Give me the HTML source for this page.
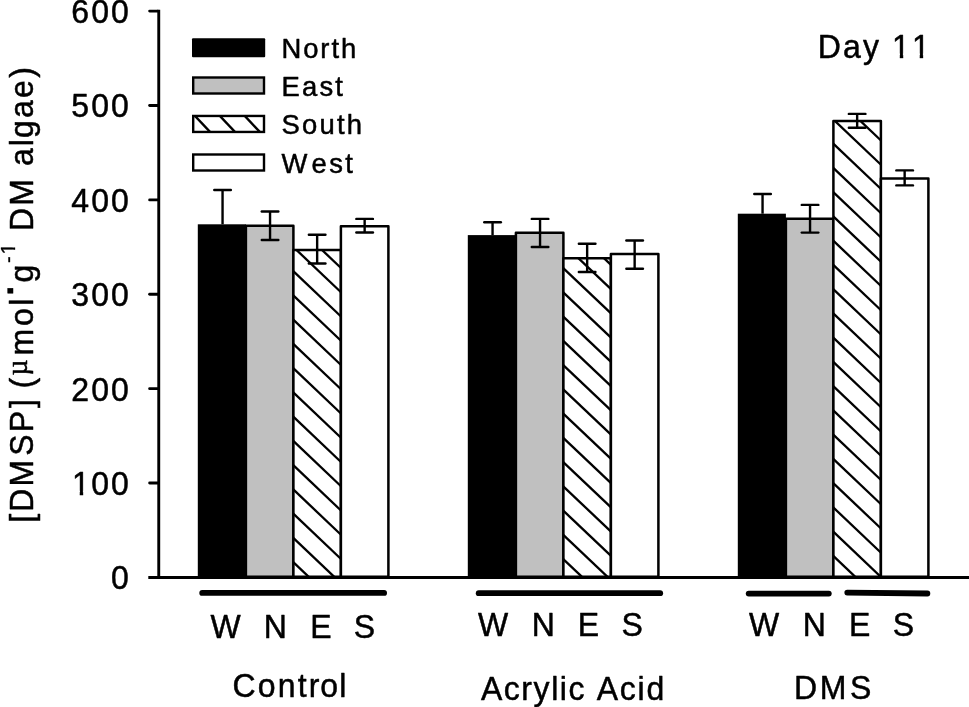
<!DOCTYPE html>
<html lang="en"><head><meta charset="utf-8"><title>DMSP Day 11</title>
<style>html,body{margin:0;padding:0;background:#fff;}svg{display:block;}svg{filter:grayscale(1) blur(0.3px);}text{font-family:"Liberation Sans",Arial,Helvetica,sans-serif;fill:#000;stroke:#000;stroke-width:0.5px;stroke-linejoin:round;font-kerning:none;}.t{font-size:33px;letter-spacing:2.2px;}.l{font-size:28.3px;letter-spacing:2.3px;}.mu{font-family:"Liberation Serif","DejaVu Serif",serif;font-size:28.5px;letter-spacing:0;}</style></head><body>
<svg width="969" height="707" viewBox="0 0 969 707">
<rect width="969" height="707" fill="#fff"/>
<defs>
<clipPath id="c1"><rect x="-3" y="-30" width="26" height="25.8"/><rect x="8.0" y="-5" width="3.5" height="6"/></clipPath>
<clipPath id="c100"><rect x="-3" y="-30" width="80" height="25.8"/><rect x="8.0" y="-5" width="3.5" height="6"/><rect x="19.5" y="-5" width="55" height="8"/></clipPath>
<clipPath id="cday"><rect x="-3" y="-30" width="130" height="25.8"/><rect x="-3" y="-6" width="78" height="18"/><rect x="84.65" y="-5" width="3.5" height="6"/><rect x="105.2" y="-5" width="3.5" height="6"/></clipPath>
<clipPath id="cm1"><rect x="-3" y="-30" width="45" height="25.8"/><rect x="21.45" y="-5" width="3.5" height="6"/></clipPath>
</defs>
<rect x="197.80" y="224.30" width="48.1" height="352.50" fill="#000"/>
<rect x="245.90" y="225.70" width="47.5" height="351.10" fill="#c0c0c0" stroke="#000" stroke-width="2.5" stroke-linejoin="round"/>
<rect x="293.40" y="250.00" width="47.5" height="326.80" fill="#fff"/>
<clipPath id="hb0"><rect x="293.40" y="250.00" width="47.50" height="326.80"/></clipPath>
<g clip-path="url(#hb0)" stroke="#000" stroke-width="2.3" fill="none">
<line x1="290.40" y1="147.18" x2="343.90" y2="198.00"/>
<line x1="290.40" y1="171.43" x2="343.90" y2="222.25"/>
<line x1="290.40" y1="195.68" x2="343.90" y2="246.50"/>
<line x1="290.40" y1="219.93" x2="343.90" y2="270.75"/>
<line x1="290.40" y1="244.18" x2="343.90" y2="295.00"/>
<line x1="290.40" y1="268.43" x2="343.90" y2="319.25"/>
<line x1="290.40" y1="292.68" x2="343.90" y2="343.50"/>
<line x1="290.40" y1="316.93" x2="343.90" y2="367.75"/>
<line x1="290.40" y1="341.18" x2="343.90" y2="392.00"/>
<line x1="290.40" y1="365.43" x2="343.90" y2="416.25"/>
<line x1="290.40" y1="389.68" x2="343.90" y2="440.50"/>
<line x1="290.40" y1="413.93" x2="343.90" y2="464.75"/>
<line x1="290.40" y1="438.18" x2="343.90" y2="489.00"/>
<line x1="290.40" y1="462.43" x2="343.90" y2="513.25"/>
<line x1="290.40" y1="486.68" x2="343.90" y2="537.50"/>
<line x1="290.40" y1="510.93" x2="343.90" y2="561.75"/>
<line x1="290.40" y1="535.18" x2="343.90" y2="586.00"/>
<line x1="290.40" y1="559.43" x2="343.90" y2="610.25"/>
</g>
<rect x="293.40" y="250.00" width="47.5" height="326.80" fill="none" stroke="#000" stroke-width="2.5" stroke-linejoin="round"/>
<rect x="340.90" y="226.20" width="47.5" height="350.60" fill="#fff" stroke="#000" stroke-width="2.5" stroke-linejoin="round"/>
<g stroke="#000" stroke-width="2.4" stroke-linecap="round">
<line x1="222.55" y1="190.00" x2="222.55" y2="224.30" stroke-linecap="butt"/>
<line x1="214.25" y1="190.00" x2="230.85" y2="190.00"/>
</g>
<g stroke="#000" stroke-width="2.4" stroke-linecap="round">
<line x1="270.05" y1="211.50" x2="270.05" y2="240.00" stroke-linecap="butt"/>
<line x1="261.75" y1="211.50" x2="278.35" y2="211.50"/>
<line x1="261.75" y1="240.00" x2="278.35" y2="240.00"/>
</g>
<g stroke="#000" stroke-width="2.4" stroke-linecap="round">
<line x1="317.15" y1="234.70" x2="317.15" y2="263.50" stroke-linecap="butt"/>
<line x1="308.85" y1="234.70" x2="325.45" y2="234.70"/>
<line x1="308.85" y1="263.50" x2="325.45" y2="263.50"/>
</g>
<g stroke="#000" stroke-width="2.4" stroke-linecap="round">
<line x1="364.65" y1="218.90" x2="364.65" y2="232.50" stroke-linecap="butt"/>
<line x1="356.35" y1="218.90" x2="372.95" y2="218.90"/>
<line x1="356.35" y1="232.50" x2="372.95" y2="232.50"/>
</g>
<rect x="467.80" y="235.10" width="48.1" height="341.70" fill="#000"/>
<rect x="515.90" y="232.80" width="47.5" height="344.00" fill="#c0c0c0" stroke="#000" stroke-width="2.5" stroke-linejoin="round"/>
<rect x="563.40" y="258.30" width="47.5" height="318.50" fill="#fff"/>
<clipPath id="hb1"><rect x="563.40" y="258.30" width="47.50" height="318.50"/></clipPath>
<g clip-path="url(#hb1)" stroke="#000" stroke-width="2.3" fill="none">
<line x1="560.40" y1="168.33" x2="613.90" y2="219.15"/>
<line x1="560.40" y1="192.58" x2="613.90" y2="243.40"/>
<line x1="560.40" y1="216.83" x2="613.90" y2="267.65"/>
<line x1="560.40" y1="241.08" x2="613.90" y2="291.90"/>
<line x1="560.40" y1="265.33" x2="613.90" y2="316.15"/>
<line x1="560.40" y1="289.58" x2="613.90" y2="340.40"/>
<line x1="560.40" y1="313.83" x2="613.90" y2="364.65"/>
<line x1="560.40" y1="338.08" x2="613.90" y2="388.90"/>
<line x1="560.40" y1="362.33" x2="613.90" y2="413.15"/>
<line x1="560.40" y1="386.58" x2="613.90" y2="437.40"/>
<line x1="560.40" y1="410.83" x2="613.90" y2="461.65"/>
<line x1="560.40" y1="435.08" x2="613.90" y2="485.90"/>
<line x1="560.40" y1="459.33" x2="613.90" y2="510.15"/>
<line x1="560.40" y1="483.58" x2="613.90" y2="534.40"/>
<line x1="560.40" y1="507.83" x2="613.90" y2="558.65"/>
<line x1="560.40" y1="532.08" x2="613.90" y2="582.90"/>
<line x1="560.40" y1="556.33" x2="613.90" y2="607.15"/>
<line x1="560.40" y1="580.58" x2="613.90" y2="631.40"/>
</g>
<rect x="563.40" y="258.30" width="47.5" height="318.50" fill="none" stroke="#000" stroke-width="2.5" stroke-linejoin="round"/>
<rect x="610.90" y="254.00" width="47.5" height="322.80" fill="#fff" stroke="#000" stroke-width="2.5" stroke-linejoin="round"/>
<g stroke="#000" stroke-width="2.4" stroke-linecap="round">
<line x1="492.55" y1="222.30" x2="492.55" y2="235.10" stroke-linecap="butt"/>
<line x1="484.25" y1="222.30" x2="500.85" y2="222.30"/>
</g>
<g stroke="#000" stroke-width="2.4" stroke-linecap="round">
<line x1="540.05" y1="218.90" x2="540.05" y2="247.00" stroke-linecap="butt"/>
<line x1="531.75" y1="218.90" x2="548.35" y2="218.90"/>
<line x1="531.75" y1="247.00" x2="548.35" y2="247.00"/>
</g>
<g stroke="#000" stroke-width="2.4" stroke-linecap="round">
<line x1="587.15" y1="243.80" x2="587.15" y2="272.00" stroke-linecap="butt"/>
<line x1="578.85" y1="243.80" x2="595.45" y2="243.80"/>
<line x1="578.85" y1="272.00" x2="595.45" y2="272.00"/>
</g>
<g stroke="#000" stroke-width="2.4" stroke-linecap="round">
<line x1="634.65" y1="240.50" x2="634.65" y2="268.70" stroke-linecap="butt"/>
<line x1="626.35" y1="240.50" x2="642.95" y2="240.50"/>
<line x1="626.35" y1="268.70" x2="642.95" y2="268.70"/>
</g>
<rect x="737.80" y="213.70" width="48.1" height="363.10" fill="#000"/>
<rect x="785.90" y="218.70" width="47.5" height="358.10" fill="#c0c0c0" stroke="#000" stroke-width="2.5" stroke-linejoin="round"/>
<rect x="833.40" y="121.00" width="47.5" height="455.80" fill="#fff"/>
<clipPath id="hb2"><rect x="833.40" y="121.00" width="47.50" height="455.80"/></clipPath>
<g clip-path="url(#hb2)" stroke="#000" stroke-width="2.3" fill="none">
<line x1="830.40" y1="19.69" x2="883.90" y2="70.51"/>
<line x1="830.40" y1="43.94" x2="883.90" y2="94.76"/>
<line x1="830.40" y1="68.19" x2="883.90" y2="119.01"/>
<line x1="830.40" y1="92.44" x2="883.90" y2="143.26"/>
<line x1="830.40" y1="116.69" x2="883.90" y2="167.51"/>
<line x1="830.40" y1="140.94" x2="883.90" y2="191.76"/>
<line x1="830.40" y1="165.19" x2="883.90" y2="216.01"/>
<line x1="830.40" y1="189.44" x2="883.90" y2="240.26"/>
<line x1="830.40" y1="213.69" x2="883.90" y2="264.51"/>
<line x1="830.40" y1="237.94" x2="883.90" y2="288.76"/>
<line x1="830.40" y1="262.19" x2="883.90" y2="313.01"/>
<line x1="830.40" y1="286.44" x2="883.90" y2="337.26"/>
<line x1="830.40" y1="310.69" x2="883.90" y2="361.51"/>
<line x1="830.40" y1="334.94" x2="883.90" y2="385.76"/>
<line x1="830.40" y1="359.19" x2="883.90" y2="410.01"/>
<line x1="830.40" y1="383.44" x2="883.90" y2="434.26"/>
<line x1="830.40" y1="407.69" x2="883.90" y2="458.51"/>
<line x1="830.40" y1="431.94" x2="883.90" y2="482.76"/>
<line x1="830.40" y1="456.19" x2="883.90" y2="507.01"/>
<line x1="830.40" y1="480.44" x2="883.90" y2="531.26"/>
<line x1="830.40" y1="504.69" x2="883.90" y2="555.51"/>
<line x1="830.40" y1="528.94" x2="883.90" y2="579.76"/>
<line x1="830.40" y1="553.19" x2="883.90" y2="604.01"/>
<line x1="830.40" y1="577.44" x2="883.90" y2="628.26"/>
</g>
<rect x="833.40" y="121.00" width="47.5" height="455.80" fill="none" stroke="#000" stroke-width="2.5" stroke-linejoin="round"/>
<rect x="880.90" y="178.60" width="47.5" height="398.20" fill="#fff" stroke="#000" stroke-width="2.5" stroke-linejoin="round"/>
<g stroke="#000" stroke-width="2.4" stroke-linecap="round">
<line x1="762.55" y1="194.00" x2="762.55" y2="213.70" stroke-linecap="butt"/>
<line x1="754.25" y1="194.00" x2="770.85" y2="194.00"/>
</g>
<g stroke="#000" stroke-width="2.4" stroke-linecap="round">
<line x1="810.05" y1="204.90" x2="810.05" y2="232.60" stroke-linecap="butt"/>
<line x1="801.75" y1="204.90" x2="818.35" y2="204.90"/>
<line x1="801.75" y1="232.60" x2="818.35" y2="232.60"/>
</g>
<g stroke="#000" stroke-width="2.4" stroke-linecap="round">
<line x1="857.15" y1="113.90" x2="857.15" y2="127.80" stroke-linecap="butt"/>
<line x1="848.85" y1="113.90" x2="865.45" y2="113.90"/>
<line x1="848.85" y1="127.80" x2="865.45" y2="127.80"/>
</g>
<g stroke="#000" stroke-width="2.4" stroke-linecap="round">
<line x1="904.65" y1="170.40" x2="904.65" y2="185.40" stroke-linecap="butt"/>
<line x1="896.35" y1="170.40" x2="912.95" y2="170.40"/>
<line x1="896.35" y1="185.40" x2="912.95" y2="185.40"/>
</g>
<g stroke="#000" stroke-width="2.7" stroke-linecap="butt">
<line x1="158.75" y1="9.7" x2="158.75" y2="578.9" stroke-width="2.9"/>
<line x1="148.3" y1="577.5" x2="972" y2="577.5" stroke-width="3.0"/>
<line x1="149.6" y1="483.02" x2="157.8" y2="483.02" stroke-width="2.8" stroke-linecap="round"/>
<line x1="149.6" y1="388.64" x2="157.8" y2="388.64" stroke-width="2.8" stroke-linecap="round"/>
<line x1="149.6" y1="294.26" x2="157.8" y2="294.26" stroke-width="2.8" stroke-linecap="round"/>
<line x1="149.6" y1="199.88" x2="157.8" y2="199.88" stroke-width="2.8" stroke-linecap="round"/>
<line x1="149.6" y1="105.50" x2="157.8" y2="105.50" stroke-width="2.8" stroke-linecap="round"/>
<line x1="149.6" y1="11.12" x2="157.8" y2="11.12" stroke-width="2.8" stroke-linecap="round"/>
</g>
<text class="t" transform="translate(131.0,589.3) scale(0.97,1)" text-anchor="end">0</text>
<g transform="translate(72.0,494.92) scale(0.97,1)" clip-path="url(#c100)"><text class="t" dx="0 -0.8 0">100</text></g>
<text class="t" transform="translate(131.0,400.54) scale(0.97,1)" text-anchor="end">200</text>
<text class="t" transform="translate(131.0,306.16) scale(0.97,1)" text-anchor="end">300</text>
<text class="t" transform="translate(131.0,211.78) scale(0.97,1)" text-anchor="end">400</text>
<text class="t" transform="translate(131.0,117.4) scale(0.97,1)" text-anchor="end">500</text>
<text class="t" transform="translate(131.0,23.02) scale(0.97,1)" text-anchor="end">600</text>
<rect x="192" y="38.2" width="73.2" height="19" fill="#000" rx="1"/>
<text class="l" transform="translate(281.4,57.8) scale(0.97,1)" dx="0 -0.3 -0.3 -0.3 -0.3">North</text>
<rect x="193.2" y="77.5" width="70.8" height="16.0" fill="#c0c0c0" stroke="#000" stroke-width="2.4"/>
<text class="l" transform="translate(281.4,95.9) scale(0.97,1)">East</text>
<rect x="193.2" y="115.95" width="70.8" height="16.0" fill="#fff"/>
<clipPath id="cl"><rect x="193.20" y="115.95" width="70.80" height="16.00"/></clipPath>
<g clip-path="url(#cl)" stroke="#000" stroke-width="2.4" fill="none">
<line x1="190.20" y1="-21.13" x2="267.00" y2="60.28"/>
<line x1="190.20" y1="5.27" x2="267.00" y2="86.68"/>
<line x1="190.20" y1="31.67" x2="267.00" y2="113.08"/>
<line x1="190.20" y1="58.07" x2="267.00" y2="139.48"/>
<line x1="190.20" y1="84.47" x2="267.00" y2="165.88"/>
<line x1="190.20" y1="110.87" x2="267.00" y2="192.28"/>
</g>
<rect x="193.2" y="115.95" width="70.8" height="16.0" fill="none" stroke="#000" stroke-width="2.4"/>
<text class="l" transform="translate(281.4,134.35) scale(0.97,1)">South</text>
<rect x="193.2" y="154.5" width="70.8" height="16.0" fill="#fff" stroke="#000" stroke-width="2.4"/>
<text class="l" transform="translate(281.4,172.9) scale(0.97,1)" dx="0 2.0 0.3 0">West</text>
<g transform="translate(817.7,57.8) scale(0.97,1)" clip-path="url(#cday)"><text class="t">Day 11</text></g>
<g stroke="#000" stroke-width="5.8" stroke-linecap="round">
<line x1="202.2" y1="592.9" x2="384.1" y2="592.9"/>
<line x1="478.7" y1="593.2" x2="660.2" y2="593.2"/>
<line x1="748.7" y1="593.6" x2="828.8" y2="593.6"/>
<line x1="847.3" y1="592.6" x2="927.4" y2="593.5"/>
</g>
<text class="t" transform="translate(225.5,637.9) scale(0.97,1)" text-anchor="middle" style="letter-spacing:0">W</text>
<text class="t" transform="translate(275.3,637.9) scale(0.97,1)" text-anchor="middle" style="letter-spacing:0">N</text>
<text class="t" transform="translate(320.9,637.9) scale(0.97,1)" text-anchor="middle" style="letter-spacing:0">E</text>
<text class="t" transform="translate(364.5,637.9) scale(0.97,1)" text-anchor="middle" style="letter-spacing:0">S</text>
<text class="t" transform="translate(493.0,636.2) scale(0.97,1)" text-anchor="middle" style="letter-spacing:0">W</text>
<text class="t" transform="translate(543.2,636.2) scale(0.97,1)" text-anchor="middle" style="letter-spacing:0">N</text>
<text class="t" transform="translate(588.4,636.2) scale(0.97,1)" text-anchor="middle" style="letter-spacing:0">E</text>
<text class="t" transform="translate(632.3,636.2) scale(0.97,1)" text-anchor="middle" style="letter-spacing:0">S</text>
<text class="t" transform="translate(764.1,636.2) scale(0.97,1)" text-anchor="middle" style="letter-spacing:0">W</text>
<text class="t" transform="translate(814.3,636.2) scale(0.97,1)" text-anchor="middle" style="letter-spacing:0">N</text>
<text class="t" transform="translate(859.8,636.2) scale(0.97,1)" text-anchor="middle" style="letter-spacing:0">E</text>
<text class="t" transform="translate(903.4,636.2) scale(0.97,1)" text-anchor="middle" style="letter-spacing:0">S</text>
<text class="t" transform="translate(232.5,696.9) scale(0.97,1)" dx="0 0 0 0 0 -1.3 -0.9">Control</text>
<text class="t" transform="translate(480.9,700.3) scale(0.97,1)" dx="0 -0.6 -0.6 -0.6 -0.6 -0.6 -0.6 -0.6 -0.4 -0.4 -0.4 -0.4">Acrylic Acid</text>
<text class="t" transform="translate(794.0,698.9) scale(0.97,1)" dx="0 0.5 1.5">DMS</text>
<g transform="translate(32.6,521.5) rotate(-90)">
<text class="t" transform="translate(-1.20,0) scale(0.97,1)" dx="0 0 0 2.0 0 0.7">[DMSP]</text>
<text class="t" transform="translate(133.00,0) scale(0.97,1)">(</text>
<text class="mu" transform="translate(146.00,-5.2) scale(0.97,1)">µ</text>
<text class="t" transform="translate(166.10,0) scale(0.97,1)" dx="0 0.6 0.4">mol</text>
<text class="t" transform="translate(226.00,-19.6) scale(0.97,1)" style="font-weight:bold;font-size:36px">.</text>
<text class="t" transform="translate(239.00,0) scale(0.97,1)">g</text>
<g transform="translate(258.60,-17.2) scale(0.6173,0.6364)" clip-path="url(#cm1)"><text class="t" style="letter-spacing:0" dx="0 2.46">-1</text></g>
<text class="t" transform="translate(290.40,0) scale(0.97,1)">DM</text>
<text class="t" transform="translate(355.40,0) scale(0.97,1)" dx="0 0 -1.1 0 0 0.4">algae)</text>
</g>
</svg></body></html>
